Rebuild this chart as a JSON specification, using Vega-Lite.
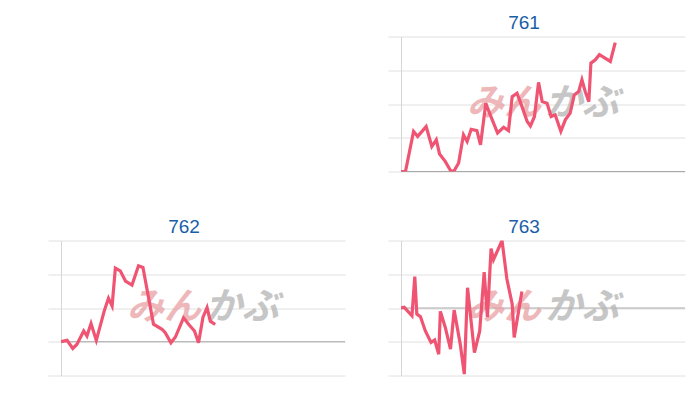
{
  "$schema": "https://vega.github.io/schema/vega-lite/v6.json",
  "background": "white",
  "padding": {"left": 47, "top": 13.5, "right": 5, "bottom": 5},
  "config": {
    "view": {"stroke": null},
    "axisY": {"labels": false, "title": null, "tickSize": 13, "domainColor": "#d6d6d6", "gridColor": "#e0e0e0", "tickColor": "#e0e0e0"},
    "title": {"font": "Liberation Sans", "fontSize": 19, "fontWeight": "normal", "color": "#1a5ea8", "anchor": "middle", "dx": -19, "offset": 3.5, "baseline": "alphabetic", "frame": "group"}
  },
  "datasets": {
    "lines": [
      {"s": "761", "d": 0, "v": 0}, {"s": "761", "d": 1.1, "v": 0}, {"s": "761", "d": 3.1, "v": 11.9}, {"s": "761", "d": 4.1, "v": 10.4},
      {"s": "761", "d": 6.2, "v": 13.3}, {"s": "761", "d": 7.6, "v": 7.4}, {"s": "761", "d": 8.7, "v": 9.4}, {"s": "761", "d": 9.5, "v": 5.2},
      {"s": "761", "d": 10.9, "v": 3.0}, {"s": "761", "d": 12.2, "v": 0.3}, {"s": "761", "d": 13.0, "v": 0}, {"s": "761", "d": 14.2, "v": 2.5},
      {"s": "761", "d": 15.4, "v": 10.9}, {"s": "761", "d": 16.3, "v": 8.9}, {"s": "761", "d": 17.3, "v": 12.5}, {"s": "761", "d": 18.7, "v": 12.1},
      {"s": "761", "d": 19.6, "v": 7.9}, {"s": "761", "d": 20.9, "v": 20.2}, {"s": "761", "d": 22.0, "v": 16.8}, {"s": "761", "d": 23.8, "v": 11.4},
      {"s": "761", "d": 25.3, "v": 13.1}, {"s": "761", "d": 26.5, "v": 12.1}, {"s": "761", "d": 27.4, "v": 22.2}, {"s": "761", "d": 28.6, "v": 23.2},
      {"s": "761", "d": 29.8, "v": 19.3}, {"s": "761", "d": 31.1, "v": 14.8}, {"s": "761", "d": 31.9, "v": 13.5}, {"s": "761", "d": 32.9, "v": 16.3},
      {"s": "761", "d": 33.9, "v": 26.4}, {"s": "761", "d": 34.8, "v": 20.7}, {"s": "761", "d": 36.0, "v": 20.2}, {"s": "761", "d": 37.0, "v": 16.3},
      {"s": "761", "d": 38.0, "v": 16.8}, {"s": "761", "d": 39.4, "v": 11.9}, {"s": "761", "d": 40.5, "v": 15.3}, {"s": "761", "d": 41.7, "v": 17.3},
      {"s": "761", "d": 42.7, "v": 22.7}, {"s": "761", "d": 43.8, "v": 23.7}, {"s": "761", "d": 44.6, "v": 27.2}, {"s": "761", "d": 45.4, "v": 23.7},
      {"s": "761", "d": 46.3, "v": 20.7}, {"s": "761", "d": 46.8, "v": 32.1}, {"s": "761", "d": 47.9, "v": 33.1}, {"s": "761", "d": 48.9, "v": 34.6},
      {"s": "761", "d": 51.6, "v": 32.6}, {"s": "761", "d": 52.8, "v": 38.2},
      {"s": "762", "d": 0, "v": 0}, {"s": "762", "d": 1.5, "v": 0.4}, {"s": "762", "d": 2.9, "v": -2.0}, {"s": "762", "d": 3.9, "v": -0.8},
      {"s": "762", "d": 5.6, "v": 3.2}, {"s": "762", "d": 6.4, "v": 1.7}, {"s": "762", "d": 7.4, "v": 5.4}, {"s": "762", "d": 8.7, "v": 0.4},
      {"s": "762", "d": 10.7, "v": 9.3}, {"s": "762", "d": 11.7, "v": 12.9}, {"s": "762", "d": 12.6, "v": 10.6}, {"s": "762", "d": 13.4, "v": 21.8},
      {"s": "762", "d": 14.6, "v": 21.0}, {"s": "762", "d": 15.9, "v": 18.0}, {"s": "762", "d": 17.5, "v": 16.8}, {"s": "762", "d": 19.1, "v": 22.5},
      {"s": "762", "d": 20.2, "v": 22.0}, {"s": "762", "d": 22.8, "v": 5.2}, {"s": "762", "d": 24.9, "v": 3.7}, {"s": "762", "d": 25.7, "v": 2.7},
      {"s": "762", "d": 27.1, "v": -0.3}, {"s": "762", "d": 28.2, "v": 1.4}, {"s": "762", "d": 30.2, "v": 7.1}, {"s": "762", "d": 31.5, "v": 5.1},
      {"s": "762", "d": 32.9, "v": 3.2}, {"s": "762", "d": 33.9, "v": -0.3}, {"s": "762", "d": 35.0, "v": 7.3}, {"s": "762", "d": 36.0, "v": 10.1},
      {"s": "762", "d": 36.8, "v": 6.1}, {"s": "762", "d": 38.0, "v": 5.1},
      {"s": "763", "d": 0, "v": 0}, {"s": "763", "d": 0.8, "v": 0.2}, {"s": "763", "d": 2.7, "v": -2.3}, {"s": "763", "d": 3.4, "v": 9.3},
      {"s": "763", "d": 3.9, "v": -1.8}, {"s": "763", "d": 4.8, "v": -2.6}, {"s": "763", "d": 6.0, "v": -6.8}, {"s": "763", "d": 7.4, "v": -10.2},
      {"s": "763", "d": 8.3, "v": -9.5}, {"s": "763", "d": 9.3, "v": -13.7}, {"s": "763", "d": 9.7, "v": -1.0}, {"s": "763", "d": 10.9, "v": -5.7},
      {"s": "763", "d": 12.2, "v": -12.2}, {"s": "763", "d": 13.1, "v": -0.6}, {"s": "763", "d": 14.6, "v": -10.7}, {"s": "763", "d": 15.6, "v": -19.6},
      {"s": "763", "d": 16.4, "v": 6.0}, {"s": "763", "d": 18.1, "v": -13.2}, {"s": "763", "d": 19.4, "v": -6.8}, {"s": "763", "d": 20.5, "v": 10.6},
      {"s": "763", "d": 21.3, "v": -2.7}, {"s": "763", "d": 22.2, "v": 17.6}, {"s": "763", "d": 22.8, "v": 14.3}, {"s": "763", "d": 24.9, "v": 20.0},
      {"s": "763", "d": 26.1, "v": 8.6}, {"s": "763", "d": 27.4, "v": 1.2}, {"s": "763", "d": 27.9, "v": -8.7}, {"s": "763", "d": 29.8, "v": 4.9}
    ],
    "zero": [{"z": 0}]
  },
  "spacing": 45,
  "vconcat": [
    {
      "spacing": 43,
      "hconcat": [
        {"width": 283, "height": 135, "data": {"values": [{"a": 0}]}, "mark": {"type": "rule", "opacity": 0},
         "encoding": {"y": {"field": "a", "type": "quantitative", "axis": null}}},
        {
          "title": "761",
          "width": 284, "height": 135,
          "layer": [
            {"data": {"name": "zero"}, "mark": {"type": "rule", "color": "#a8a8a8", "strokeWidth": 1},
             "encoding": {"y": {"field": "z", "type": "quantitative", "axis": {"values": [0, 10, 20, 30, 40], "title": null}}}},
            {"data": {"values": [{"w": "みん"}]}, "mark": {"type": "text", "font": "Noto Sans CJK JP", "fontSize": 37, "fontWeight": "bold", "fontStyle": "italic", "color": "#e9a0a3", "opacity": 0.75, "align": "right", "baseline": "middle", "dx": -2},
             "encoding": {"text": {"field": "w"}, "x": {"datum": 35, "type": "quantitative", "axis": null}, "y": {"datum": 20, "type": "quantitative", "axis": {"values": [0, 10, 20, 30, 40], "title": null}}}},
            {"data": {"values": [{"w": "かぶ"}]}, "mark": {"type": "text", "font": "Noto Sans CJK JP", "fontSize": 37, "fontWeight": "bold", "fontStyle": "italic", "color": "#b8b8b8", "opacity": 0.8, "align": "left", "baseline": "middle", "dx": 2},
             "encoding": {"text": {"field": "w"}, "x": {"datum": 35, "type": "quantitative", "axis": null}, "y": {"datum": 20, "type": "quantitative", "axis": {"values": [0, 10, 20, 30, 40], "title": null}}}},
            {"data": {"name": "lines"}, "transform": [{"filter": "datum.s === '761'"}],
             "mark": {"type": "line", "color": "#ef5472", "strokeWidth": 3.2, "clip": true},
             "encoding": {
               "x": {"field": "d", "type": "quantitative", "scale": {"domain": [0, 70], "nice": false}, "axis": null},
               "y": {"field": "v", "type": "quantitative", "scale": {"domain": [0, 40], "nice": false}, "axis": {"values": [0, 10, 20, 30, 40], "title": null}}
             }}
          ]
        }
      ]
    },
    {
      "spacing": 41,
      "hconcat": [
        {
          "title": "762",
          "width": 284, "height": 135,
          "layer": [
            {"data": {"name": "zero"}, "mark": {"type": "rule", "color": "#a8a8a8", "strokeWidth": 1},
             "encoding": {"y": {"field": "z", "type": "quantitative", "axis": {"values": [-10, 0, 10, 20, 30], "title": null}}}},
            {"data": {"values": [{"w": "みん"}]}, "mark": {"type": "text", "font": "Noto Sans CJK JP", "fontSize": 37, "fontWeight": "bold", "fontStyle": "italic", "color": "#e9a0a3", "opacity": 0.75, "align": "right", "baseline": "middle", "dx": -2},
             "encoding": {"text": {"field": "w"}, "x": {"datum": 35, "type": "quantitative", "axis": null}, "y": {"datum": 10, "type": "quantitative", "axis": {"values": [-10, 0, 10, 20, 30], "title": null}}}},
            {"data": {"values": [{"w": "かぶ"}]}, "mark": {"type": "text", "font": "Noto Sans CJK JP", "fontSize": 37, "fontWeight": "bold", "fontStyle": "italic", "color": "#b8b8b8", "opacity": 0.8, "align": "left", "baseline": "middle", "dx": 2},
             "encoding": {"text": {"field": "w"}, "x": {"datum": 35, "type": "quantitative", "axis": null}, "y": {"datum": 10, "type": "quantitative", "axis": {"values": [-10, 0, 10, 20, 30], "title": null}}}},
            {"data": {"name": "lines"}, "transform": [{"filter": "datum.s === '762'"}],
             "mark": {"type": "line", "color": "#ef5472", "strokeWidth": 3.2, "clip": true},
             "encoding": {
               "x": {"field": "d", "type": "quantitative", "scale": {"domain": [0, 70], "nice": false}, "axis": null},
               "y": {"field": "v", "type": "quantitative", "scale": {"domain": [-10, 30], "nice": false}, "axis": {"values": [-10, 0, 10, 20, 30], "title": null}}
             }}
          ]
        },
        {
          "title": "763",
          "width": 284, "height": 135,
          "layer": [
            {"data": {"name": "zero"}, "mark": {"type": "rule", "color": "#a8a8a8", "strokeWidth": 1},
             "encoding": {"y": {"field": "z", "type": "quantitative", "axis": {"values": [-20, -10, 0, 10, 20], "title": null}}}},
            {"data": {"values": [{"w": "みん"}]}, "mark": {"type": "text", "font": "Noto Sans CJK JP", "fontSize": 37, "fontWeight": "bold", "fontStyle": "italic", "color": "#e9a0a3", "opacity": 0.75, "align": "right", "baseline": "middle", "dx": -2},
             "encoding": {"text": {"field": "w"}, "x": {"datum": 35, "type": "quantitative", "axis": null}, "y": {"datum": 0, "type": "quantitative", "axis": {"values": [-20, -10, 0, 10, 20], "title": null}}}},
            {"data": {"values": [{"w": "かぶ"}]}, "mark": {"type": "text", "font": "Noto Sans CJK JP", "fontSize": 37, "fontWeight": "bold", "fontStyle": "italic", "color": "#b8b8b8", "opacity": 0.8, "align": "left", "baseline": "middle", "dx": 2},
             "encoding": {"text": {"field": "w"}, "x": {"datum": 35, "type": "quantitative", "axis": null}, "y": {"datum": 0, "type": "quantitative", "axis": {"values": [-20, -10, 0, 10, 20], "title": null}}}},
            {"data": {"name": "lines"}, "transform": [{"filter": "datum.s === '763'"}],
             "mark": {"type": "line", "color": "#ef5472", "strokeWidth": 3.2, "clip": true},
             "encoding": {
               "x": {"field": "d", "type": "quantitative", "scale": {"domain": [0, 70], "nice": false}, "axis": null},
               "y": {"field": "v", "type": "quantitative", "scale": {"domain": [-20, 20], "nice": false}, "axis": {"values": [-20, -10, 0, 10, 20], "title": null}}
             }}
          ]
        }
      ]
    }
  ]
}
